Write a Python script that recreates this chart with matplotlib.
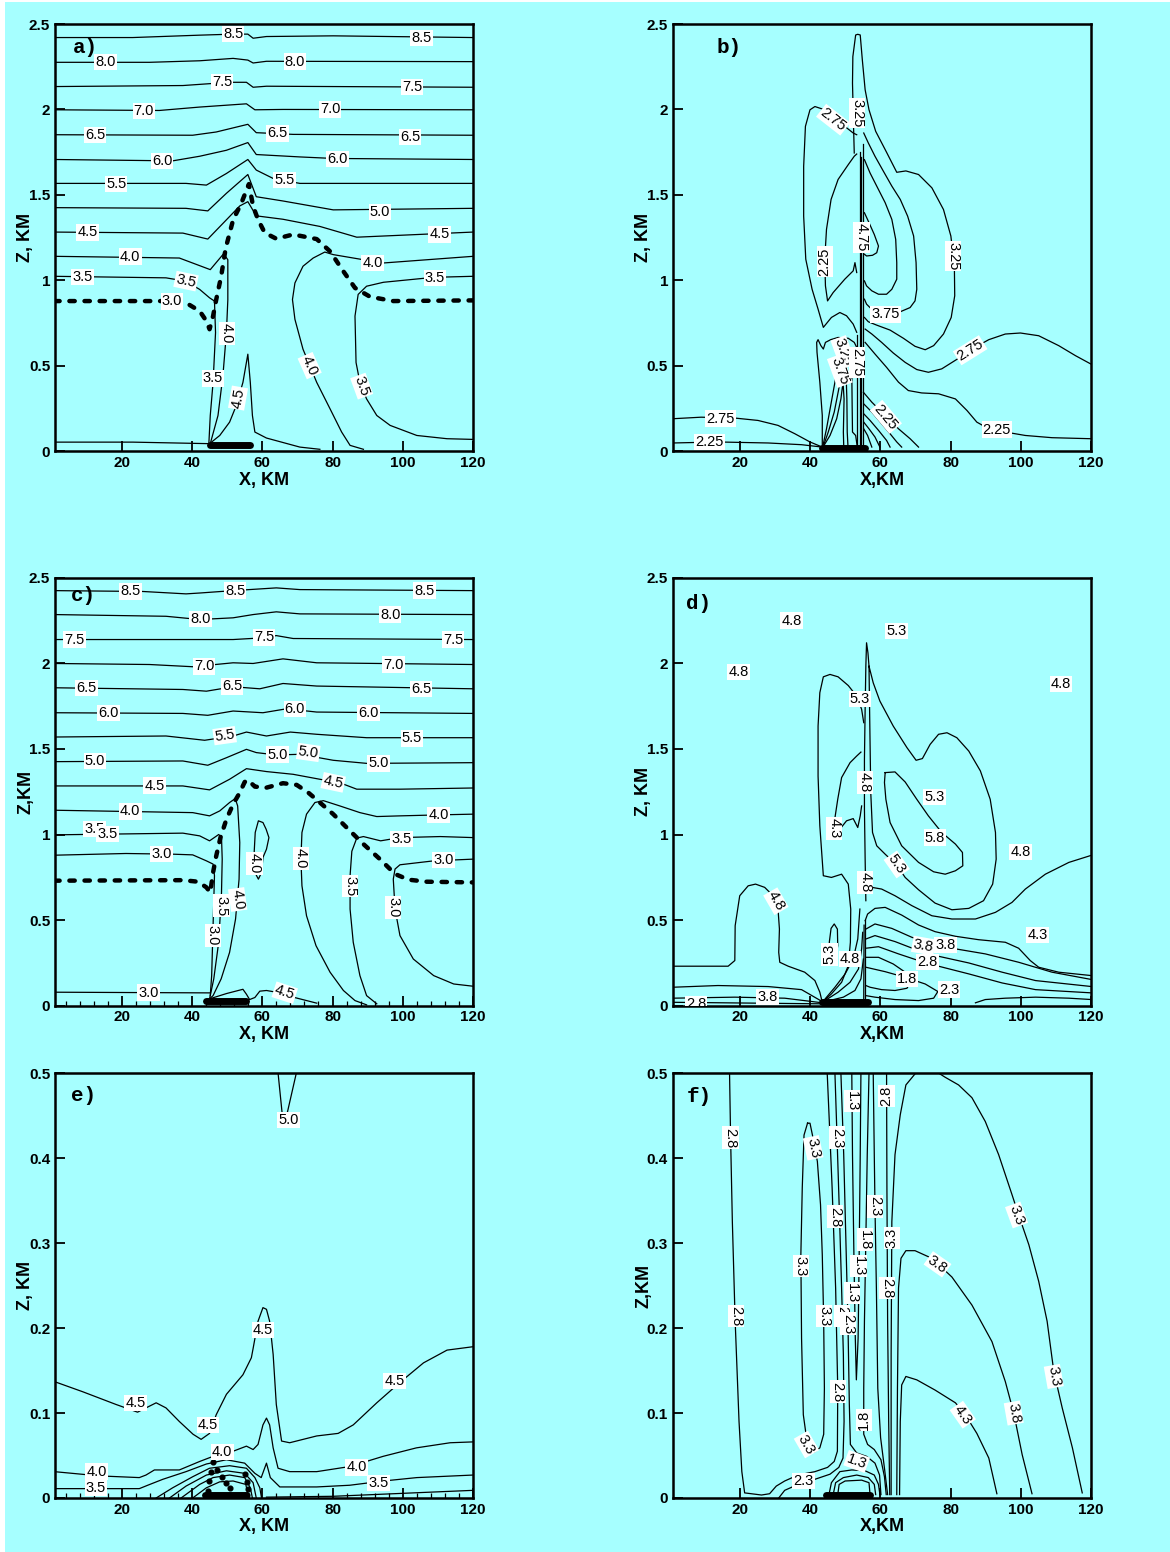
import matplotlib
matplotlib.use("Agg")
import matplotlib.pyplot as plt
from matplotlib.ticker import MultipleLocator
from matplotlib.patches import Rectangle

plt.rcParams["font.family"] = ["Liberation Sans", "DejaVu Sans"]
CYAN = "#A6FFFF"

# =====================================================================
# Panel a : isolines (x in km, z in km)
# =====================================================================
a_85 = ([0.8, 23.1, 42.2, 51.7, 55.9, 57.4, 61.2, 80.2, 120.0], [2.421, 2.421, 2.435, 2.441, 2.441, 2.417, 2.427, 2.431, 2.421])
a_80 = ([0.8, 27.9, 42.2, 51.7, 55.9, 57.4, 61.2, 120.0], [2.276, 2.276, 2.285, 2.299, 2.289, 2.272, 2.282, 2.280])
a_75 = ([0.8, 37.4, 50.7, 55.5, 57.4, 61.2, 120.0], [2.134, 2.140, 2.159, 2.159, 2.130, 2.136, 2.130])
a_70 = ([0.8, 30.7, 42.2, 55.5, 57.9, 65.9, 120.0], [1.998, 1.994, 2.014, 2.033, 1.998, 2.000, 1.998])
a_65 = ([0.8, 40.2, 46.9, 55.9, 58.3, 68.8, 120.0], [1.852, 1.849, 1.868, 1.913, 1.864, 1.854, 1.849])
a_60 = ([0.8, 34.5, 42.2, 49.8, 55.9, 58.3, 70.7, 80.2, 120.0], [1.707, 1.699, 1.726, 1.761, 1.806, 1.736, 1.722, 1.713, 1.707])
a_55 = ([0.8, 38.3, 44.1, 49.8, 55.9, 58.3, 63.1, 70.7, 120.0], [1.567, 1.567, 1.557, 1.625, 1.707, 1.645, 1.596, 1.567, 1.567])
a_50 = ([0.8, 38.3, 44.5, 49.8, 55.9, 58.3, 65.9, 80.2, 120.0], [1.425, 1.421, 1.406, 1.509, 1.619, 1.489, 1.464, 1.412, 1.421])
a_45 = ([0.8, 37.4, 44.5, 50.7, 53.6, 55.9, 58.3, 65.9, 76.4, 86.9, 120.0], [1.282, 1.276, 1.241, 1.373, 1.435, 1.460, 1.377, 1.357, 1.315, 1.252, 1.282])
a_40L = ([0.8, 36.4, 45.2, 49.0, 50.2, 50.2, 49.8, 48.8, 47.4, 45.2], [1.140, 1.130, 1.062, 1.155, 1.120, 0.885, 0.693, 0.441, 0.208, 0.043])
a_40R = ([120.0, 94.5, 88.8, 80.2, 77.8, 74.5, 71.6, 69.3, 68.6, 69.3, 71.6, 75.5, 79.3, 82.6, 85.0, 88.8], [1.140, 1.101, 1.120, 1.150, 1.165, 1.130, 1.082, 0.984, 0.887, 0.771, 0.596, 0.402, 0.247, 0.111, 0.033, 0.010])
a_35L = ([0.8, 32.6, 38.3, 42.2, 45.0, 46.4, 46.7, 46.0, 45.2, 44.8], [1.023, 1.014, 0.994, 0.946, 0.897, 0.878, 0.693, 0.402, 0.208, 0.043])
a_35R = ([120.0, 108.8, 94.5, 89.7, 87.3, 86.4, 86.7, 87.8, 89.7, 92.6, 96.4, 104.0, 112.6, 120.0], [1.023, 1.017, 0.988, 0.965, 0.917, 0.790, 0.518, 0.402, 0.305, 0.208, 0.150, 0.091, 0.072, 0.068])
a_45S = ([45.0, 47.9, 50.7, 52.6, 54.5, 55.9, 56.6, 57.2, 57.9, 61.2, 70.7, 76.4], [0.043, 0.091, 0.169, 0.266, 0.402, 0.567, 0.402, 0.208, 0.111, 0.076, 0.023, 0.010])
a_gnd = ([0.8, 23.1, 45.0], [0.052, 0.052, 0.043])
a_cloud = ([0.8, 31.7, 38.3, 42.2, 44.1, 45.0, 46.0, 46.9, 48.3, 49.6, 51.7, 54.0, 56.2, 57.4, 58.8, 60.7, 64.0, 68.8, 75.5, 79.3, 83.1, 86.4, 90.7, 97.3, 120.0],
           [0.878, 0.878, 0.868, 0.819, 0.761, 0.713, 0.790, 0.887, 1.023, 1.188, 1.353, 1.449, 1.563, 1.433, 1.355, 1.278, 1.243, 1.268, 1.241, 1.169, 1.052, 0.955, 0.903, 0.878, 0.882])
a_bar = ([45.0, 56.6], [0.035, 0.035])
a_labels = [(51.7, 2.44, "8.5", 0), (105.4, 2.42, "8.5", 0), (15.3, 2.276, "8.0", 0), (69.3, 2.28, "8.0", 0),
            (48.6, 2.16, "7.5", 0), (102.6, 2.13, "7.5", 0), (26.3, 1.99, "7.0", 0), (79.3, 2.0, "7.0", 0),
            (12.4, 1.85, "6.5", 0), (64.3, 1.86, "6.5", 0), (102.1, 1.84, "6.5", 0), (31.5, 1.70, "6.0", 0),
            (81.4, 1.71, "6.0", 0), (18.4, 1.565, "5.5", 0), (66.4, 1.585, "5.5", 0), (93.5, 1.40, "5.0", 0),
            (10.3, 1.28, "4.5", 0), (110.5, 1.268, "4.5", 0), (22.4, 1.138, "4.0", 0), (91.4, 1.10, "4.0", 0),
            (49.9, 0.69, "4.0", -90), (73.5, 0.50, "4.0", -66), (8.8, 1.02, "3.5", 0), (38.3, 0.995, "3.5", -12),
            (109.2, 1.015, "3.5", 0), (46.0, 0.425, "3.5", 0), (88.3, 0.38, "3.5", -70), (53.1, 0.31, "4.5", 80),
            (34.3, 0.876, "3.0", 0)]

# =====================================================================
# Panel b
# =====================================================================
b_275L = ([53.3, 52.3, 50.4, 48.5, 46.1, 43.8, 42.3, 40.6, 38.8, 38.2, 38.2, 38.7, 40.0, 41.4, 44.2, 47.1, 49.9, 52.3, 53.3],
          [0.695, 0.743, 0.792, 0.811, 0.782, 0.724, 0.831, 0.947, 1.123, 1.375, 1.667, 1.901, 1.998, 2.017, 1.998, 1.959, 1.901, 1.862, 1.852])
b_225L = ([53.3, 52.8, 52.3, 49.9, 46.6, 45.0, 44.4, 44.2, 44.7, 46.0, 48.0, 50.9, 52.6, 53.3],
          [1.045, 1.103, 1.055, 1.006, 0.928, 0.879, 0.967, 1.123, 1.298, 1.473, 1.590, 1.677, 1.726, 1.739])
b_325 = ([52.6, 52.4, 52.1, 52.2, 53.0, 53.6, 54.3, 54.9, 55.7, 56.8, 58.7, 61.8, 64.7, 67.3, 70.9, 74.7, 78.0, 80.1, 81.1, 81.2, 80.2, 78.0, 75.2, 72.8, 69.9, 66.6, 62.8, 59.0, 56.6, 55.5],
         [1.745, 1.901, 2.154, 2.309, 2.436, 2.440, 2.436, 2.290, 2.115, 1.998, 1.872, 1.749, 1.632, 1.640, 1.619, 1.541, 1.414, 1.259, 1.084, 0.909, 0.782, 0.685, 0.617, 0.593, 0.613, 0.660, 0.708, 0.737, 0.757, 0.782])
b_375 = ([55.3, 56.6, 58.5, 60.9, 63.3, 65.7, 67.8, 69.5, 70.2, 70.4, 69.9, 68.5, 65.2, 61.4, 58.0, 56.1, 55.5],
         [1.862, 1.804, 1.726, 1.638, 1.551, 1.473, 1.375, 1.259, 1.103, 0.947, 0.879, 0.840, 0.811, 0.802, 0.821, 0.860, 0.889])
b_425 = ([55.5, 57.1, 59.0, 61.4, 63.3, 64.4, 64.7, 64.7, 63.3, 61.8, 59.5, 57.6, 56.1, 55.5],
         [1.706, 1.628, 1.551, 1.454, 1.356, 1.239, 1.103, 1.006, 0.947, 0.918, 0.918, 0.938, 0.967, 0.996])
b_475 = ([55.5, 56.8, 58.3, 59.5, 59.0, 57.8, 56.1, 55.5], [1.395, 1.337, 1.268, 1.200, 1.161, 1.146, 1.142, 1.152])
b_275R = ([55.7, 57.6, 60.4, 63.7, 67.1, 70.4, 73.7, 77.5, 82.3, 86.1, 90.9, 95.6, 99.9, 105.1, 110.8, 115.6, 119.9],
          [0.714, 0.685, 0.636, 0.574, 0.519, 0.477, 0.461, 0.481, 0.543, 0.597, 0.652, 0.685, 0.691, 0.675, 0.617, 0.558, 0.510])
b_225R = ([55.7, 58.5, 61.8, 65.2, 68.0, 71.8, 76.6, 81.4, 84.7, 87.5, 90.9, 95.6, 101.3, 108.9, 119.9],
          [0.636, 0.568, 0.490, 0.403, 0.354, 0.340, 0.335, 0.305, 0.237, 0.169, 0.130, 0.111, 0.091, 0.078, 0.072])
b_fan1 = ([55.2, 57.6, 61.4, 65.2, 68.5, 70.9], [0.344, 0.286, 0.208, 0.130, 0.072, 0.023])
b_fan2 = ([55.3, 57.6, 60.4, 62.8, 64.7, 66.1], [0.276, 0.228, 0.160, 0.101, 0.053, 0.023])
b_fan3 = ([55.3, 57.1, 59.5, 61.8, 62.8], [0.218, 0.179, 0.121, 0.062, 0.023])
b_fan4 = ([55.3, 56.8, 58.5, 59.9], [0.169, 0.130, 0.082, 0.023])
b_fan5 = ([55.3, 56.4, 57.6], [0.130, 0.091, 0.023])
b_275G = ([0.95, 9.0, 18.6, 25.2, 30.9, 35.7, 40.0, 43.5], [0.189, 0.198, 0.193, 0.179, 0.150, 0.101, 0.053, 0.023])
b_225G = ([0.95, 13.8, 28.1, 37.6, 43.5], [0.047, 0.053, 0.047, 0.037, 0.023])
b_low1 = ([43.5, 43.5, 42.8, 42.0, 41.9, 42.3, 43.1, 43.8, 44.4, 45.9, 48.0, 50.9, 52.6, 53.3],
          [0.023, 0.208, 0.403, 0.578, 0.636, 0.652, 0.617, 0.597, 0.636, 0.652, 0.665, 0.660, 0.636, 0.607])
b_low2 = ([43.6, 44.7, 45.9, 47.1, 48.0, 49.2, 50.4, 51.4, 51.9, 52.0, 52.1, 53.0, 53.4],
          [0.023, 0.130, 0.267, 0.403, 0.539, 0.617, 0.636, 0.597, 0.461, 0.267, 0.111, 0.091, 0.033])
b_low3 = ([43.7, 45.2, 46.9, 48.2, 49.0, 49.6, 50.2, 50.5, 50.6, 50.8], [0.023, 0.111, 0.228, 0.364, 0.481, 0.539, 0.500, 0.305, 0.111, 0.033])
b_low4 = ([43.7, 45.7, 47.6, 48.8, 49.4, 49.7, 49.5, 49.6], [0.023, 0.091, 0.189, 0.305, 0.403, 0.305, 0.111, 0.033])
b_col0 = ([53.4, 53.4], [0.03, 0.68])
b_col1 = ([54.2, 54.2], [0.03, 1.75])
b_col2 = ([54.6, 54.6], [0.03, 1.72])
b_col3 = ([55.0, 55.0], [0.03, 1.80])
b_bar = ([43.5, 55.7], [0.02, 0.02])
b_labels = [(46.6, 1.94, "2.75", -38), (44.2, 1.11, "2.25", 90), (53.4, 1.98, "3.25", -90), (80.8, 1.142, "3.25", -90),
            (61.4, 0.80, "3.75", 0), (54.7, 1.25, "4.75", -90), (85.6, 0.59, "2.75", 32), (93.2, 0.125, "2.25", 0),
            (61.6, 0.20, "2.25", -50), (14.6, 0.19, "2.75", 0), (11.4, 0.053, "2.25", 0), (49.5, 0.578, "3.25", -70),
            (48.5, 0.47, "3.75", -70), (53.4, 0.52, "2.75", -90)]

# =====================================================================
# Panel c
# =====================================================================
c_85 = ([0.8, 26.0, 38.3, 42.2, 51.7, 64.0, 70.7, 120.0], [2.426, 2.421, 2.407, 2.412, 2.426, 2.442, 2.432, 2.426])
c_80 = ([0.8, 32.6, 42.2, 51.7, 57.4, 64.0, 70.7, 120.0], [2.286, 2.276, 2.257, 2.267, 2.286, 2.302, 2.290, 2.286])
c_75 = ([0.8, 51.7, 60.2, 64.0, 68.8, 120.0], [2.140, 2.140, 2.150, 2.163, 2.146, 2.140])
c_70 = ([0.8, 27.9, 40.2, 51.7, 57.4, 65.9, 75.5, 120.0], [2.000, 1.994, 1.981, 2.004, 2.000, 2.027, 2.004, 1.994])
c_65 = ([0.8, 37.4, 44.1, 51.7, 59.3, 65.9, 75.5, 120.0], [1.858, 1.848, 1.838, 1.864, 1.852, 1.883, 1.868, 1.852])
c_60 = ([0.8, 37.4, 44.5, 51.7, 60.2, 66.9, 75.5, 120.0], [1.712, 1.708, 1.697, 1.722, 1.712, 1.735, 1.716, 1.708])
c_55 = ([0.8, 32.6, 43.6, 51.7, 55.5, 61.2, 68.0, 75.5, 89.7, 120.0], [1.570, 1.576, 1.551, 1.576, 1.599, 1.576, 1.599, 1.586, 1.566, 1.566])
c_50 = ([0.8, 37.4, 44.5, 49.8, 55.5, 58.3, 64.0, 70.7, 80.2, 89.7, 120.0], [1.426, 1.430, 1.405, 1.449, 1.498, 1.479, 1.465, 1.469, 1.434, 1.416, 1.420])
c_45 = ([0.8, 37.4, 45.0, 50.7, 55.5, 61.2, 68.8, 76.4, 81.9, 86.9, 99.2, 120.0], [1.284, 1.284, 1.261, 1.323, 1.385, 1.368, 1.352, 1.323, 1.304, 1.265, 1.265, 1.272])
c_40L = ([0.8, 40.2, 45.0, 47.9, 50.7, 52.3, 53.0, 53.6, 53.4, 52.4, 50.7, 48.3, 46.0, 45.2],
         [1.142, 1.128, 1.109, 1.138, 1.187, 1.210, 1.167, 0.953, 0.739, 0.506, 0.311, 0.156, 0.058, 0.043])
c_40R = ([120.0, 110.7, 99.2, 92.6, 87.8, 82.1, 77.4, 75.0, 72.6, 71.3, 71.0, 71.3, 72.6, 75.3, 79.3, 83.1, 86.4, 89.7],
         [1.119, 1.115, 1.109, 1.105, 1.128, 1.167, 1.198, 1.187, 1.119, 1.012, 0.856, 0.700, 0.525, 0.350, 0.195, 0.088, 0.029, 0.004])
c_40loop = ([57.9, 57.7, 58.0, 58.9, 60.2, 61.1, 61.9, 61.2, 60.2, 59.8, 58.9, 57.9],
            [0.778, 0.895, 1.012, 1.080, 1.070, 1.031, 0.982, 0.914, 0.866, 0.778, 0.739, 0.778])
c_35L = ([0.8, 37.4, 42.2, 45.0, 47.6, 48.4, 48.6, 48.4, 47.6, 46.2, 45.0], [0.998, 1.008, 0.992, 0.963, 1.000, 0.984, 0.856, 0.661, 0.370, 0.156, 0.039])
c_35R = ([120.0, 110.7, 99.2, 93.7, 88.8, 86.9, 85.5, 85.0, 85.0, 85.9, 87.8, 89.7, 92.6],
         [0.982, 0.988, 0.982, 0.963, 0.988, 0.979, 0.902, 0.759, 0.564, 0.370, 0.175, 0.058, 0.010])
c_30L = ([0.8, 21.2, 34.5, 40.2, 44.1, 46.0, 46.4, 46.0, 45.6, 45.2], [0.879, 0.889, 0.885, 0.881, 0.846, 0.827, 0.759, 0.467, 0.175, 0.058])
c_30R = ([120.0, 108.8, 99.2, 97.8, 97.3, 97.8, 99.2, 103.0, 108.8, 114.5, 120.0], [0.856, 0.846, 0.823, 0.798, 0.739, 0.564, 0.409, 0.272, 0.175, 0.126, 0.113])
c_45G = ([45.0, 49.8, 54.5, 55.5, 56.4, 57.9, 59.3, 61.2, 64.0, 68.8, 75.5], [0.039, 0.070, 0.095, 0.066, 0.035, 0.047, 0.084, 0.088, 0.078, 0.049, 0.014])
c_30G = ([0.8, 45.0], [0.078, 0.074])
c_cloud = ([0.8, 37.4, 41.7, 44.1, 45.2, 46.0, 46.9, 48.1, 49.8, 51.7, 53.6, 55.0, 55.9, 57.9, 61.2, 65.9, 69.8, 73.1, 76.4, 80.2, 84.5, 88.8, 93.5, 97.8, 101.6, 106.8, 120.0],
           [0.730, 0.733, 0.724, 0.691, 0.661, 0.778, 0.875, 0.982, 1.089, 1.177, 1.245, 1.307, 1.319, 1.280, 1.274, 1.300, 1.290, 1.245, 1.187, 1.119, 1.031, 0.944, 0.856, 0.769, 0.736, 0.724, 0.720])
c_bar = ([44.1, 55.5], [0.025, 0.025])
c_labels = [(22.5, 2.421, "8.5", 0), (52.3, 2.426, "8.5", 0), (106.2, 2.426, "8.5", 0), (42.4, 2.262, "8.0", 0),
            (96.4, 2.286, "8.0", 0), (6.5, 2.140, "7.5", 0), (60.5, 2.152, "7.5", 0), (114.3, 2.140, "7.5", 0),
            (43.4, 1.983, "7.0", 0), (97.3, 1.994, "7.0", 0), (10.0, 1.855, "6.5", 0), (51.4, 1.866, "6.5", 0),
            (105.2, 1.852, "6.5", 0), (16.2, 1.712, "6.0", 0), (69.3, 1.735, "6.0", 0), (90.2, 1.710, "6.0", 0),
            (49.3, 1.578, "5.5", 8), (102.6, 1.562, "5.5", 0), (12.4, 1.428, "5.0", 0), (64.3, 1.467, "5.0", 0),
            (73.1, 1.480, "5.0", -8), (93.1, 1.416, "5.0", 0), (29.3, 1.286, "4.5", 0), (80.2, 1.305, "4.5", -12),
            (22.4, 1.135, "4.0", 0), (110.2, 1.115, "4.0", 0), (53.0, 0.62, "4.0", -82), (57.8, 0.83, "4.0", -90),
            (71.0, 0.86, "4.0", -90), (12.2, 1.031, "3.5", 0), (15.9, 1.004, "3.5", 0), (99.7, 0.975, "3.5", 0),
            (48.4, 0.584, "3.5", -90), (85.0, 0.70, "3.5", -90), (31.4, 0.885, "3.0", 0), (111.6, 0.85, "3.0", 0),
            (45.9, 0.41, "3.0", -90), (97.3, 0.574, "3.0", -90), (27.6, 0.076, "3.0", 0), (66.4, 0.075, "4.5", -18)]

# =====================================================================
# Panel d
# =====================================================================
d_spike = ([55.9, 55.7, 55.5, 55.5, 55.7, 55.9, 56.1, 56.5, 56.8], [0.613, 0.856, 1.148, 1.440, 1.732, 1.984, 2.121, 2.062, 1.984])
d_loop = ([56.8, 58.0, 59.9, 63.7, 67.6, 70.2, 72.0, 74.2, 76.6, 79.0, 81.8, 85.2, 88.5, 91.3, 92.8, 93.0, 92.0, 89.4, 85.2, 80.4, 75.6, 70.9, 67.1, 64.7, 61.4, 59.0, 57.8, 57.3, 57.1, 56.9, 56.8],
          [1.984, 1.887, 1.780, 1.634, 1.508, 1.434, 1.444, 1.527, 1.586, 1.595, 1.566, 1.488, 1.372, 1.206, 1.012, 0.856, 0.710, 0.613, 0.568, 0.560, 0.599, 0.677, 0.749, 0.821, 0.885, 0.934, 1.012, 1.245, 1.537, 1.829, 1.984])
d_58 = ([61.4, 64.2, 67.1, 70.4, 73.7, 77.5, 81.4, 83.4, 83.5, 81.4, 78.5, 75.2, 70.9, 66.1, 62.8, 61.6, 61.2, 61.4],
        [1.362, 1.366, 1.307, 1.206, 1.109, 1.012, 0.944, 0.895, 0.817, 0.788, 0.768, 0.782, 0.837, 0.934, 1.070, 1.206, 1.304, 1.362])
d_left = ([55.3, 54.7, 53.3, 50.9, 48.0, 45.7, 43.8, 42.8, 42.3, 42.3, 42.8, 43.8, 46.1, 49.0, 50.9, 51.6, 51.5, 50.9, 49.0, 46.1, 43.5],
          [1.654, 1.732, 1.809, 1.871, 1.922, 1.936, 1.922, 1.829, 1.634, 1.342, 1.051, 0.759, 0.749, 0.768, 0.710, 0.564, 0.370, 0.233, 0.136, 0.068, 0.019])
d_43 = ([54.5, 53.3, 51.4, 49.0, 47.9, 46.9, 46.9, 48.5, 50.4, 52.3, 53.6, 54.3, 54.7],
        [1.482, 1.459, 1.420, 1.333, 1.206, 1.070, 0.973, 1.031, 1.080, 1.093, 1.041, 1.109, 1.167])
d_lowleft = ([0.95, 16.7, 18.6, 18.7, 20.0, 22.4, 24.5, 27.1, 29.5, 30.9, 31.3, 31.1, 31.4, 33.8, 38.5, 41.4, 42.8, 43.5],
             [0.230, 0.230, 0.263, 0.467, 0.642, 0.700, 0.710, 0.691, 0.642, 0.564, 0.447, 0.311, 0.253, 0.230, 0.195, 0.146, 0.078, 0.019])
d_g1 = ([0.95, 13.8, 28.1, 37.6, 43.5], [0.107, 0.117, 0.111, 0.093, 0.023])
d_g2 = ([0.95, 18.6, 32.8, 43.5], [0.043, 0.049, 0.043, 0.016])
d_g3 = ([0.95, 43.5], [0.019, 0.010])
d_53 = ([45.7, 45.5, 46.0, 46.9, 47.8, 47.9, 47.3, 46.4, 45.7], [0.272, 0.370, 0.451, 0.477, 0.447, 0.350, 0.272, 0.237, 0.272])
d_fa2 = ([43.5, 47.1, 50.0, 52.3, 53.6, 54.0, 54.2], [0.019, 0.107, 0.185, 0.272, 0.389, 0.506, 0.564])
d_fa3 = ([43.5, 48.0, 51.4, 53.8, 54.7, 55.0], [0.019, 0.078, 0.136, 0.214, 0.331, 0.428])
d_fa4 = ([43.5, 49.5, 52.8, 54.5, 55.2], [0.019, 0.049, 0.088, 0.156, 0.272])
d_col1 = ([55.3, 55.4], [0.02, 0.47])
d_col2 = ([55.6, 55.6], [0.02, 0.50])
d_r0 = ([57.6, 60.4, 64.2, 69.0, 74.7, 80.4, 87.1, 92.8, 97.5, 101.3, 107.0, 113.7, 120.2],
        [0.691, 0.681, 0.642, 0.584, 0.525, 0.506, 0.506, 0.545, 0.603, 0.681, 0.768, 0.837, 0.879])
d_r1 = ([55.7, 56.4, 58.5, 61.4, 66.1, 70.9, 75.6, 81.4, 88.0, 95.6, 99.4, 102.7, 105.1, 110.8, 120.2],
        [0.496, 0.535, 0.568, 0.574, 0.529, 0.471, 0.432, 0.405, 0.385, 0.370, 0.335, 0.263, 0.224, 0.195, 0.175])
d_r2 = ([55.9, 58.5, 63.3, 69.0, 74.7, 80.4, 89.9, 99.4, 108.9, 120.2], [0.447, 0.477, 0.451, 0.399, 0.360, 0.335, 0.302, 0.253, 0.195, 0.152])
d_r3 = ([55.9, 58.5, 64.2, 70.9, 76.6, 85.2, 94.7, 104.2, 120.2], [0.389, 0.409, 0.374, 0.321, 0.288, 0.249, 0.195, 0.146, 0.111])
d_r4 = ([55.9, 59.5, 65.2, 70.9, 76.6, 85.2, 94.7, 104.2, 120.2], [0.335, 0.344, 0.302, 0.263, 0.230, 0.185, 0.132, 0.093, 0.074])
d_r5 = ([55.9, 59.5, 63.7, 67.1, 68.8, 67.6, 64.2, 60.4, 57.1, 55.9], [0.282, 0.282, 0.243, 0.195, 0.140, 0.101, 0.088, 0.093, 0.107, 0.117])
d_r6 = ([55.9, 61.4, 67.1, 72.8, 76.4, 75.2, 70.9, 64.2, 58.5, 55.9], [0.224, 0.198, 0.165, 0.126, 0.082, 0.043, 0.029, 0.035, 0.049, 0.058])
d_r7 = ([87.1, 89.9, 95.6, 104.2, 113.7, 120.2], [0.016, 0.035, 0.043, 0.049, 0.043, 0.035])
d_bar = ([43.5, 56.4], [0.02, 0.02])
d_labels = [(34.7, 2.251, "4.8", 0), (64.7, 2.189, "5.3", 0), (19.7, 1.949, "4.8", 0), (111.5, 1.881, "4.8", 0),
            (54.2, 1.794, "5.3", 0), (55.6, 1.304, "4.8", -90), (75.5, 1.220, "5.3", 0), (46.9, 1.035, "4.3", -90),
            (75.6, 0.982, "5.8", 0), (99.9, 0.899, "4.8", 0), (64.7, 0.825, "5.3", -55), (55.7, 0.72, "4.8", -90),
            (30.3, 0.61, "4.8", -60), (104.7, 0.412, "4.3", 0), (72.3, 0.35, "3.8", -10), (78.5, 0.354, "3.8", 0),
            (73.5, 0.253, "2.8", 0), (45.6, 0.30, "5.3", 90), (51.4, 0.272, "4.8", 0), (67.6, 0.156, "1.8", 0),
            (79.6, 0.093, "2.3", 0), (27.9, 0.049, "3.8", 0), (7.6, 0.008, "2.8", 0)]

# =====================================================================
# Panel e
# =====================================================================
e_50 = ([64.5, 65.7, 67.0, 69.7], [0.500, 0.451, 0.451, 0.500])
e_45 = ([0.8, 8.9, 18.4, 24.5, 26.9, 29.8, 32.6, 36.4, 40.3, 42.6, 45.0, 46.9, 49.8, 54.5, 56.9, 57.4, 58.8, 60.2, 61.2, 62.1, 63.1, 64.0, 65.5, 67.8, 75.5, 81.6, 85.9, 92.6, 99.2, 105.9, 112.6, 120.0],
        [0.137, 0.125, 0.110, 0.101, 0.106, 0.112, 0.106, 0.090, 0.075, 0.069, 0.076, 0.098, 0.122, 0.145, 0.165, 0.176, 0.208, 0.224, 0.222, 0.208, 0.169, 0.110, 0.067, 0.065, 0.073, 0.076, 0.086, 0.112, 0.136, 0.159, 0.174, 0.178])
e_40 = ([0.8, 13.6, 25.0, 26.9, 29.3, 36.4, 42.2, 46.0, 51.7, 55.5, 57.4, 58.8, 60.2, 61.2, 62.1, 63.1, 64.5, 67.8, 75.5, 84.9, 94.4, 103.9, 113.5, 120.0],
        [0.031, 0.026, 0.024, 0.027, 0.033, 0.033, 0.043, 0.049, 0.055, 0.061, 0.057, 0.063, 0.086, 0.094, 0.086, 0.059, 0.035, 0.031, 0.031, 0.037, 0.049, 0.059, 0.065, 0.066])
e_35 = ([0.8, 25.0, 27.4, 31.7, 38.3, 44.1, 49.8, 55.0, 57.9, 59.7, 61.2, 62.3, 65.0, 75.5, 84.9, 94.5, 104.0, 120.0],
        [0.011, 0.011, 0.015, 0.022, 0.031, 0.040, 0.045, 0.041, 0.029, 0.024, 0.041, 0.024, 0.013, 0.013, 0.015, 0.020, 0.024, 0.027])
e_h1 = ([29.8, 34.5, 40.2, 45.0, 50.7, 55.5, 57.9, 59.3, 59.8], [0.0, 0.012, 0.025, 0.035, 0.038, 0.035, 0.024, 0.012, 0.0])
e_h2 = ([33.6, 38.3, 44.1, 49.8, 55.0, 57.4, 58.3], [0.0, 0.014, 0.027, 0.032, 0.029, 0.018, 0.0])
e_h3 = ([36.9, 42.2, 46.0, 50.7, 55.0, 56.6, 57.2], [0.0, 0.016, 0.024, 0.027, 0.024, 0.012, 0.0])
e_h4 = ([40.2, 44.1, 47.9, 51.7, 55.3, 56.2], [0.0, 0.012, 0.019, 0.020, 0.016, 0.0])
e_gnd = ([61.2, 80.2, 120.0], [0.001, 0.002, 0.009])
e_dotsA = ([44.5, 44.8, 45.3, 46.0, 47.1, 48.4, 49.8, 50.9], [0.008, 0.020, 0.031, 0.042, 0.033, 0.025, 0.018, 0.012])
e_dotsB = ([55.1, 55.6, 55.9, 55.7], [0.028, 0.019, 0.011, 0.004])
e_bar = ([43.6, 55.5], [0.004, 0.004])
e_labels = [(67.4, 0.445, "5.0", 0), (60.2, 0.198, "4.5", 0), (23.9, 0.112, "4.5", 0), (44.5, 0.086, "4.5", 0),
            (97.6, 0.138, "4.5", 0), (48.6, 0.054, "4.0", 0), (12.9, 0.031, "4.0", 0), (86.9, 0.036, "4.0", 0),
            (12.7, 0.012, "3.5", 0), (93.1, 0.018, "3.5", 0)]

# =====================================================================
# Panel f
# =====================================================================
f_28 = ([17.1, 17.4, 17.9, 18.7, 19.8, 20.6, 21.4, 26.2, 28.5, 30.4, 32.8, 36.6, 41.4, 45.0, 46.9, 47.8, 47.9, 47.3, 46.3, 45.5, 44.9],
        [0.500, 0.424, 0.325, 0.208, 0.090, 0.031, 0.006, 0.0035, 0.005, 0.014, 0.020, 0.027, 0.031, 0.036, 0.043, 0.055, 0.129, 0.247, 0.365, 0.443, 0.500])
f_33 = ([39.3, 38.3, 37.8, 37.4, 37.6, 38.1, 39.0, 41.2, 42.8, 43.9, 44.1, 43.9, 43.5, 43.0, 42.1, 40.7, 40.0, 39.3],
        [0.441, 0.427, 0.365, 0.286, 0.188, 0.098, 0.071, 0.054, 0.059, 0.075, 0.129, 0.208, 0.286, 0.345, 0.396, 0.427, 0.441, 0.441])
f_23 = ([31.1, 32.8, 36.6, 41.4, 45.7, 48.2, 49.4, 49.7, 49.5, 49.0, 48.3, 47.7, 47.1],
        [0.0, 0.009, 0.016, 0.022, 0.028, 0.036, 0.047, 0.090, 0.169, 0.247, 0.345, 0.424, 0.500])
f_t3 = ([48.8, 49.6, 50.2, 50.8, 51.2, 51.5, 53.3, 56.1, 58.5, 59.8, 60.2], [0.500, 0.404, 0.306, 0.208, 0.110, 0.063, 0.053, 0.049, 0.041, 0.027, 0.004])
f_tongue = ([51.9, 52.1, 52.5, 52.9, 53.2, 53.7, 54.0, 54.3, 54.5], [0.500, 0.404, 0.286, 0.188, 0.139, 0.188, 0.286, 0.404, 0.500])
f_18 = ([56.8, 56.3, 55.9, 55.5, 55.3, 55.3, 56.4, 58.3, 60.2, 61.2, 61.7], [0.500, 0.404, 0.304, 0.208, 0.129, 0.075, 0.063, 0.057, 0.045, 0.025, 0.004])
f_23r = ([58.0, 58.3, 58.5, 58.9, 59.3, 60.1, 61.2, 62.1], [0.500, 0.404, 0.343, 0.247, 0.129, 0.071, 0.035, 0.004])
f_v1 = ([61.8, 61.9, 62.1, 62.4, 62.7], [0.500, 0.365, 0.208, 0.090, 0.004])
f_v2 = ([63.1, 63.1, 63.3, 64.2, 65.7, 67.3, 69.9], [0.004, 0.169, 0.325, 0.404, 0.451, 0.486, 0.499])
f_38 = ([64.7, 64.9, 65.2, 65.9, 67.3, 69.9, 74.7, 80.4, 86.1, 91.8, 95.6, 98.0, 100.4, 103.2],
        [0.004, 0.129, 0.247, 0.282, 0.291, 0.291, 0.282, 0.260, 0.227, 0.184, 0.137, 0.100, 0.051, 0.005])
f_43 = ([65.5, 65.7, 66.1, 67.3, 70.4, 75.6, 81.4, 84.2, 87.5, 90.9, 93.2], [0.004, 0.090, 0.133, 0.143, 0.139, 0.127, 0.112, 0.098, 0.076, 0.047, 0.005])
f_33R = ([76.6, 78.5, 82.3, 86.1, 89.9, 93.7, 97.5, 99.4, 102.3, 105.1, 107.5, 109.4, 111.8, 114.7, 117.5],
         [0.500, 0.495, 0.486, 0.471, 0.443, 0.404, 0.357, 0.333, 0.298, 0.255, 0.208, 0.149, 0.106, 0.059, 0.006])
f_dome1 = ([45.4, 46.1, 48.5, 51.9, 55.7, 58.3, 59.5, 59.9], [0.004, 0.018, 0.031, 0.033, 0.032, 0.027, 0.016, 0.004])
f_dome2 = ([46.6, 47.3, 49.5, 53.3, 56.6, 58.3, 58.7], [0.004, 0.018, 0.024, 0.027, 0.024, 0.016, 0.004])
f_dome3 = ([47.9, 48.3, 50.0, 54.7, 56.8, 57.1], [0.004, 0.016, 0.020, 0.021, 0.018, 0.004])
f_bar = ([44.7, 57.1], [0.004, 0.004])
f_labels = [(17.4, 0.424, "2.8", -90), (19.0, 0.214, "2.8", -90), (40.9, 0.412, "3.3", -78), (37.4, 0.273, "3.3", -90),
            (44.0, 0.214, "3.3", -90), (39.0, 0.063, "3.3", -60), (47.7, 0.424, "2.3", -90), (47.2, 0.331, "2.8", -90),
            (47.9, 0.125, "2.8", -90), (49.1, 0.214, "2.3", -90), (50.9, 0.205, "2.3", -90), (51.9, 0.467, "1.3", -90),
            (55.7, 0.304, "1.8", -90), (53.8, 0.273, "1.3", -90), (52.0, 0.241, "1.3", -90), (55.3, 0.092, "1.8", 90),
            (53.3, 0.043, "1.3", -20), (58.5, 0.343, "2.3", -90), (63.3, 0.306, "3.3", 90), (61.8, 0.473, "2.8", 90),
            (61.9, 0.247, "2.8", -90), (38.1, 0.020, "2.3", 0), (76.3, 0.275, "3.8", -35), (98.8, 0.333, "3.3", -70),
            (109.4, 0.143, "3.3", -80), (83.5, 0.098, "4.3", -55), (98.0, 0.100, "3.8", -80)]


# =====================================================================
# drawing helpers
# =====================================================================
def draw_lines(ax, lines):
    for xs, zs in lines:
        ax.plot(xs, zs, color="black", lw=0.9, solid_joinstyle="round", zorder=2)


def draw_labels(ax, labels):
    for x, z, txt, rot in labels:
        ax.text(x, z, txt, rotation=rot, rotation_mode="anchor", ha="center", va="center",
                fontsize=10.5, color="black", zorder=6, clip_on=True,
                bbox=dict(boxstyle="square,pad=0.08", fc="white", ec="none"))


def frame(ax, ymax, yticks, yticklabels, xlabel, ylabel, letter, letter_xy, minor=False):
    ax.set_facecolor(CYAN)
    ax.set_xlim(1.0, 120.0)
    ax.set_ylim(0.0, ymax)
    ax.set_xticks([20, 40, 60, 80, 100, 120])
    ax.set_xticklabels(["20", "40", "60", "80", "100", "120"], fontweight="bold", fontsize=11)
    ax.set_yticks(yticks)
    ax.set_yticklabels(yticklabels, fontweight="bold", fontsize=11)
    ax.tick_params(axis="both", which="major", direction="in", length=7, width=1.3, pad=3.5,
                   top=False, right=False, colors="black")
    if minor:
        ax.xaxis.set_minor_locator(MultipleLocator(4))
        ax.tick_params(axis="x", which="minor", direction="in", length=3.5, width=0.9, top=False)
    for sp in ax.spines.values():
        sp.set_linewidth(1.8)
    ax.set_xlabel(xlabel, fontsize=13, fontweight="bold")
    ax.set_ylabel(ylabel, fontsize=13, fontweight="bold")
    ax.xaxis.set_label_coords(0.5, -0.048)
    ax.yaxis.set_label_coords(-0.05, 0.5)
    ax.text(letter_xy[0], letter_xy[1], letter, transform=ax.transAxes, ha="center", va="center",
            fontsize=15, fontweight="bold", family=["Liberation Mono", "DejaVu Sans Mono"], zorder=7)


def draw_bar(ax, bar):
    ax.plot(bar[0], bar[1], color="black", lw=5.0, solid_capstyle="round", zorder=4)


def draw_cloud(ax, cloud):
    ax.plot(cloud[0], cloud[1], color="black", lw=3.2, dashes=(1.2, 2.2), dash_capstyle="round", zorder=3)


# =====================================================================
# figure
# =====================================================================
fig = plt.figure(figsize=(11.7, 15.52), dpi=100)
fig.patch.set_facecolor(CYAN)
fig.add_artist(Rectangle((0, 0), 5 / 1170, 1, transform=fig.transFigure, fc="white", ec="none", zorder=-5))
fig.add_artist(Rectangle((0, 1 - 2 / 1552), 1, 2 / 1552, transform=fig.transFigure, fc="white", ec="none", zorder=-5))

W, H = 0.3573, 0.2751
ax_a = fig.add_axes([0.0470, 0.7094, W, H])
ax_b = fig.add_axes([0.5752, 0.7094, W, H])
ax_c = fig.add_axes([0.0470, 0.3521, W, 0.2755])
ax_d = fig.add_axes([0.5752, 0.3521, W, 0.2755])
ax_e = fig.add_axes([0.0470, 0.0348, W, 0.2738])
ax_f = fig.add_axes([0.5752, 0.0348, W, 0.2738])

yt_big = [0, 0.5, 1, 1.5, 2, 2.5]
yl_big = ["0", "0.5", "1", "1.5", "2", "2.5"]
yt_small = [0, 0.1, 0.2, 0.3, 0.4, 0.5]
yl_small = ["0", "0.1", "0.2", "0.3", "0.4", "0.5"]

# a
draw_lines(ax_a, [a_85, a_80, a_75, a_70, a_65, a_60, a_55, a_50, a_45, a_40L, a_40R, a_35L, a_35R, a_45S, a_gnd])
draw_cloud(ax_a, a_cloud)
draw_bar(ax_a, a_bar)
draw_labels(ax_a, a_labels)
frame(ax_a, 2.5, yt_big, yl_big, "X, KM", "Z, KM", "a)", (0.072, 0.946))

# b
draw_lines(ax_b, [b_275L, b_225L, b_325, b_375, b_425, b_475, b_275R, b_225R, b_fan1, b_fan2, b_fan3, b_fan4,
                  b_fan5, b_275G, b_225G, b_low1, b_low2, b_low3, b_low4, b_col0, b_col1, b_col2, b_col3])
draw_bar(ax_b, b_bar)
draw_labels(ax_b, b_labels)
frame(ax_b, 2.5, yt_big, yl_big, "X,KM", "Z, KM", "b)", (0.135, 0.946))

# c
draw_lines(ax_c, [c_85, c_80, c_75, c_70, c_65, c_60, c_55, c_50, c_45, c_40L, c_40R, c_40loop, c_35L, c_35R,
                  c_30L, c_30R, c_45G, c_30G])
draw_cloud(ax_c, c_cloud)
draw_bar(ax_c, c_bar)
draw_labels(ax_c, c_labels)
frame(ax_c, 2.5, yt_big, yl_big, "X, KM", "Z,KM", "c)", (0.068, 0.958), minor=True)

# d
draw_lines(ax_d, [d_spike, d_loop, d_58, d_left, d_43, d_lowleft, d_g1, d_g2, d_g3, d_53, d_fa2, d_fa3, d_fa4,
                  d_col1, d_col2, d_r0, d_r1, d_r2, d_r3, d_r4, d_r5, d_r6, d_r7])
draw_bar(ax_d, d_bar)
draw_labels(ax_d, d_labels)
frame(ax_d, 2.5, yt_big, yl_big, "X,KM", "Z, KM", "d)", (0.06, 0.94))

# e
draw_lines(ax_e, [e_50, e_45, e_40, e_35, e_h1, e_h2, e_h3, e_h4, e_gnd])
for dots in (e_dotsA, e_dotsB):
    ax_e.plot(dots[0], dots[1], ls="none", marker="o", ms=3.4, color="black", zorder=5)
draw_bar(ax_e, e_bar)
draw_labels(ax_e, e_labels)
frame(ax_e, 0.5, yt_small, yl_small, "X, KM", "Z, KM", "e)", (0.068, 0.948), minor=True)

# f
draw_lines(ax_f, [f_28, f_33, f_23, f_t3, f_tongue, f_18, f_23r, f_v1, f_v2, f_38, f_43, f_33R,
                  f_dome1, f_dome2, f_dome3])
draw_bar(ax_f, f_bar)
draw_labels(ax_f, f_labels)
frame(ax_f, 0.5, yt_small, yl_small, "X,KM", "Z,KM", "f)", (0.062, 0.944))

fig.savefig("out.png", dpi=100, facecolor=fig.get_facecolor())
